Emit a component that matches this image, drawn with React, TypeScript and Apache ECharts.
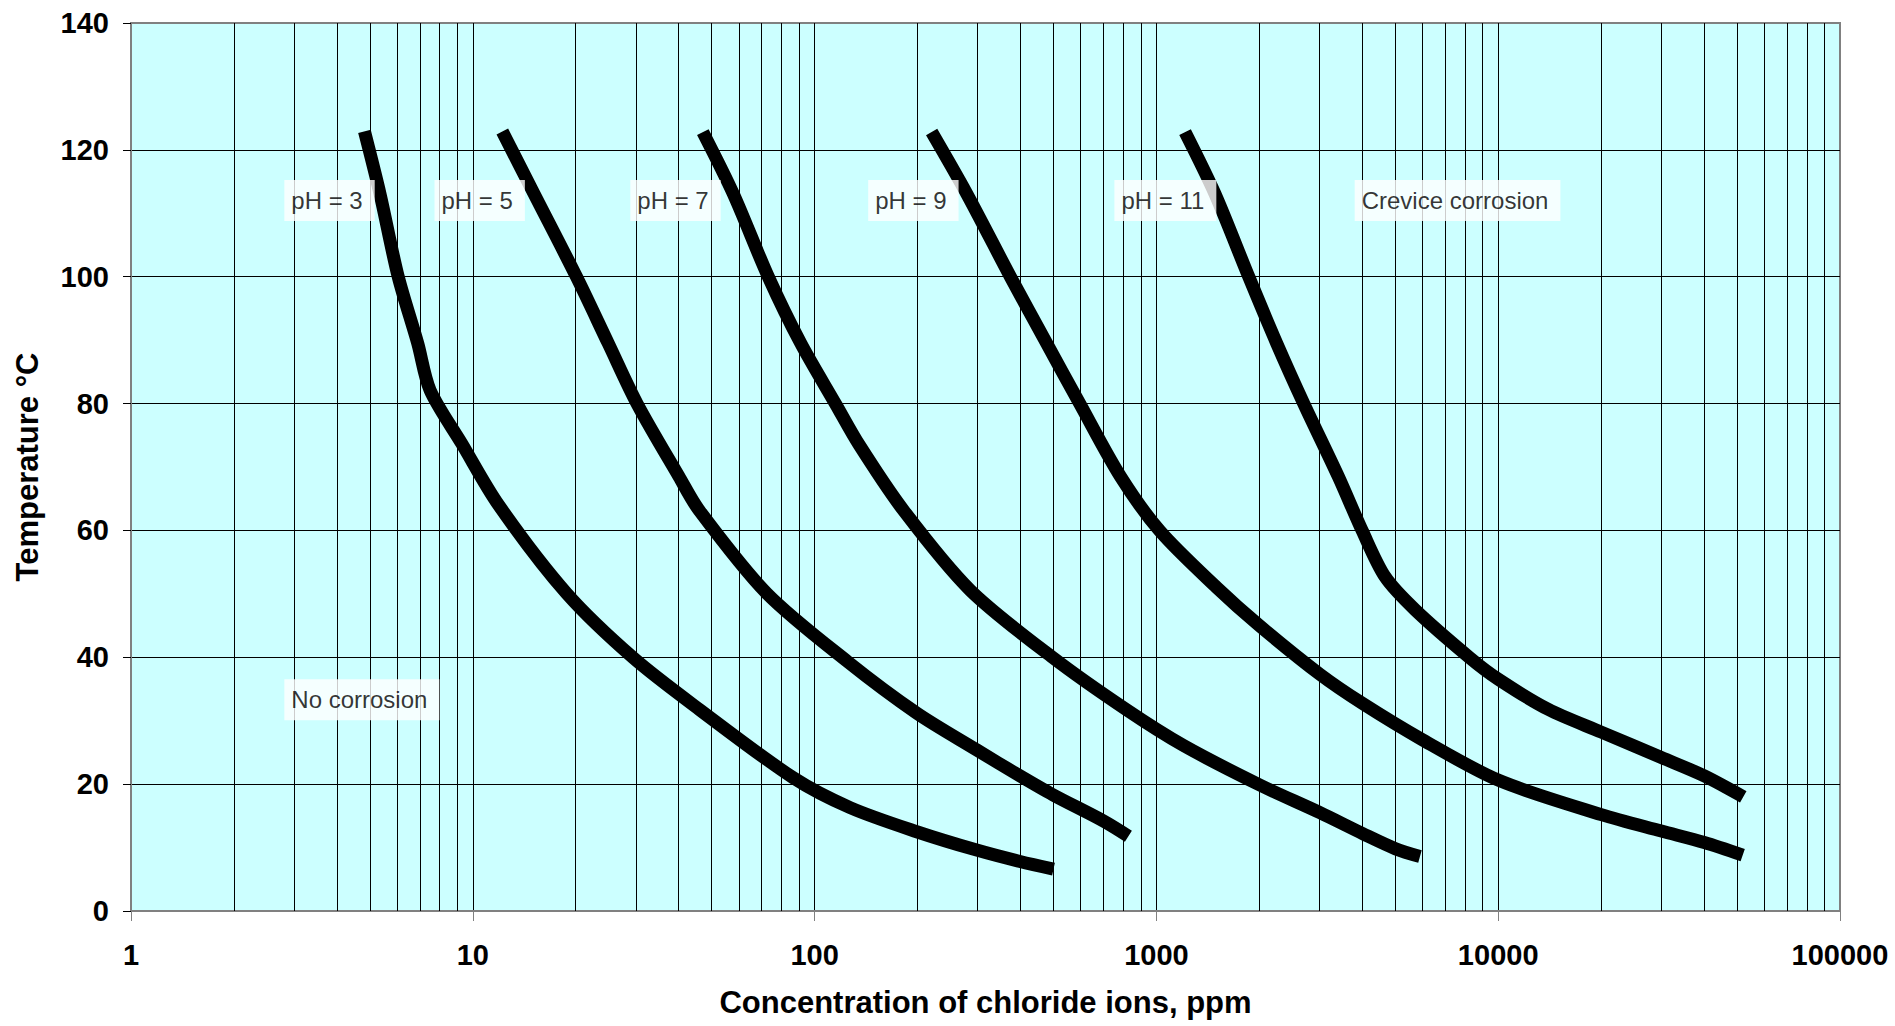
import React, { useEffect, useRef } from 'react';
import * as echarts from 'echarts';

// ---------- data ----------
const xTickLabels = ['1', '10', '100', '1000', '10000', '100000'];
const minorGridDecades = [1, 10, 100, 1000, 10000];
const minorGridMultipliers = [2, 3, 4, 5, 6, 7, 8, 9];

const curveNames = ['pH = 3', 'pH = 5', 'pH = 7', 'pH = 9', 'pH = 11'];

// [chloride ppm, temperature °C]
const ph3: number[][] = [
  [4.82, 122.9], [5.35, 113.1], [6.05, 100], [6.9, 89.5], [7.5, 82.1], [9.28, 73.7],
  [11.9, 64.0], [18.8, 50.1], [29.5, 39.9], [46.2, 31.7], [86.6, 21.0],
  [127, 16.3], [199, 12.5], [298, 9.6], [399, 7.8], [500, 6.6],
];
const ph5: number[][] = [
  [12.2, 122.9], [15.1, 113.1], [20.1, 100], [24.9, 89.5], [30.3, 79.9], [40.1, 68.5],
  [45.9, 63.2], [72.4, 50.1], [125, 39.3], [199, 31.2], [298, 25.4],
  [399, 21.3], [499, 18.3], [700, 14.2], [828, 11.8],
];
const ph7: number[][] = [
  [47.1, 122.8], [57.8, 113.1], [73.2, 100], [91.1, 89.5], [115.3, 79.9], [135, 73.5],
  [181.8, 63.2], [285, 50.6], [499, 39.9], [819, 31.7], [1199, 26.1],
  [2000, 19.9], [3010, 15.5], [4013, 12.2], [5012, 9.8], [5904, 8.6],
];
const ph9: number[][] = [
  [220, 122.8], [278.6, 113.1], [374.8, 99.9], [477.6, 89.5], [597.8, 79.9], [785, 68.5],
  [1024, 59.9], [1501, 51.0], [2000, 45.0], [3010, 37.3], [4013, 32.7],
  [6000, 27.0], [10035, 20.6], [20030, 15.2], [30016, 12.6], [40095, 10.8], [51925, 8.8],
];
const ph11: number[][] = [
  [1213, 122.8], [1483, 113.1], [1866, 99.9], [2249, 89.5], [2704, 79.9], [3406, 68.5],
  [4005, 59.9], [4666, 52.7], [5711, 47.5], [8271, 39.9], [10035, 36.5], [14000, 31.8],
  [20030, 28.2], [30016, 24.2], [40095, 21.3], [52120, 18.0],
];
const curves = [ph3, ph5, ph7, ph9, ph11];

const annotationTexts = ['pH = 3', 'pH = 5', 'pH = 7', 'pH = 9', 'pH = 11', 'Crevice corrosion', 'No corrosion'];
const annotationX = [2.8, 7.7, 28.8, 143, 751, 3790, 2.8];
const annotationY = [112, 112, 112, 112, 112, 112, 33.3];

const FONT = '"Liberation Sans", Arial, Helvetica, sans-serif';

export default function App() {
  const ref = useRef<HTMLDivElement>(null);

  useEffect(() => {
    if (!ref.current) return;
    const chart = echarts.init(ref.current, null, { renderer: 'svg' });

    const minorGrid: number[] = [];
    minorGridDecades.forEach((d) => minorGridMultipliers.forEach((m) => minorGrid.push(d * m)));

    const option: any = {
      animation: false,
      backgroundColor: '#ffffff',
      textStyle: { fontFamily: FONT },
      grid: {
        left: 131,
        right: 55,
        top: 23,
        bottom: 115,
        containLabel: false,
        outerBoundsMode: 'none',
        show: true,
        backgroundColor: '#CCFFFF',
        borderColor: '#808080',
        borderWidth: 2,
      },
      xAxis: {
        type: 'log',
        logBase: 10,
        min: 1,
        max: 100000,
        name: 'Concentration of chloride ions, ppm',
        nameLocation: 'middle',
        nameGap: 76,
        nameMoveOverlap: false,
        nameTextStyle: { fontSize: 31, fontWeight: 'bold', color: '#000', fontFamily: FONT },
        axisLine: { show: true, lineStyle: { color: '#808080', width: 2 } },
        axisTick: { show: true, inside: false, length: 10, lineStyle: { color: '#808080', width: 1 } },
        axisLabel: {
          margin: 29,
          fontSize: 29,
          fontWeight: 'bold',
          color: '#000',
          fontFamily: FONT,
          formatter: (v: number) => xTickLabels[Math.round(Math.log10(v))] ?? '',
        },
        splitLine: { show: true, showMinLine: false, showMaxLine: false, lineStyle: { color: '#000', width: 1 } },
      },
      yAxis: {
        type: 'value',
        min: 0,
        max: 140,
        interval: 20,
        name: 'Temperature °C',
        nameLocation: 'middle',
        nameGap: 88,
        nameMoveOverlap: false,
        nameTextStyle: { fontSize: 31, fontWeight: 'bold', color: '#000', fontFamily: FONT },
        axisLine: { show: true, lineStyle: { color: '#808080', width: 2 } },
        axisTick: { show: true, inside: false, length: 8, lineStyle: { color: '#000', width: 1 } },
        axisLabel: { margin: 22, fontSize: 29, fontWeight: 'bold', color: '#000', fontFamily: FONT },
        splitLine: { show: true, showMinLine: false, showMaxLine: false, lineStyle: { color: '#000', width: 1 } },
      },
      series: [
        {
          type: 'line',
          name: 'minor-grid',
          data: [],
          silent: true,
          z: 1,
          markLine: {
            silent: true,
            z: 1,
            animation: false,
            symbol: ['none', 'none'],
            label: { show: false },
            emphasis: { disabled: true },
            lineStyle: { color: '#000', width: 1, type: 'solid' },
            data: minorGrid.map((v) => ({ xAxis: v })),
          },
        },
        ...curves.map((c, i) => ({
          type: 'line',
          name: curveNames[i],
          data: c,
          symbol: 'none',
          showSymbol: false,
          smooth: 0.3,
          silent: true,
          z: 5,
          lineStyle: { color: '#000', width: 13, cap: 'butt', join: 'round' },
        })),
        {
          type: 'scatter',
          name: 'labels',
          data: annotationX.map((x, i) => [x, annotationY[i]]),
          symbolSize: 1,
          itemStyle: { color: 'rgba(0,0,0,0)' },
          silent: true,
          z: 10,
          label: {
            show: true,
            position: 'right',
            distance: 0,
            formatter: (p: any) => annotationTexts[p.dataIndex],
            color: '#000',
            fontSize: 24,
            lineHeight: 24,
            fontFamily: FONT,
            backgroundColor: '#ffffff',
            padding: [9, 12, 8, 7],
          },
        },
      ],
    };

    chart.setOption(option);
    return () => chart.dispose();
  }, []);

  return (
    <div
      ref={ref}
      style={{ position: 'absolute', left: 0, top: 0, width: 1895, height: 1026 }}
    />
  );
}
